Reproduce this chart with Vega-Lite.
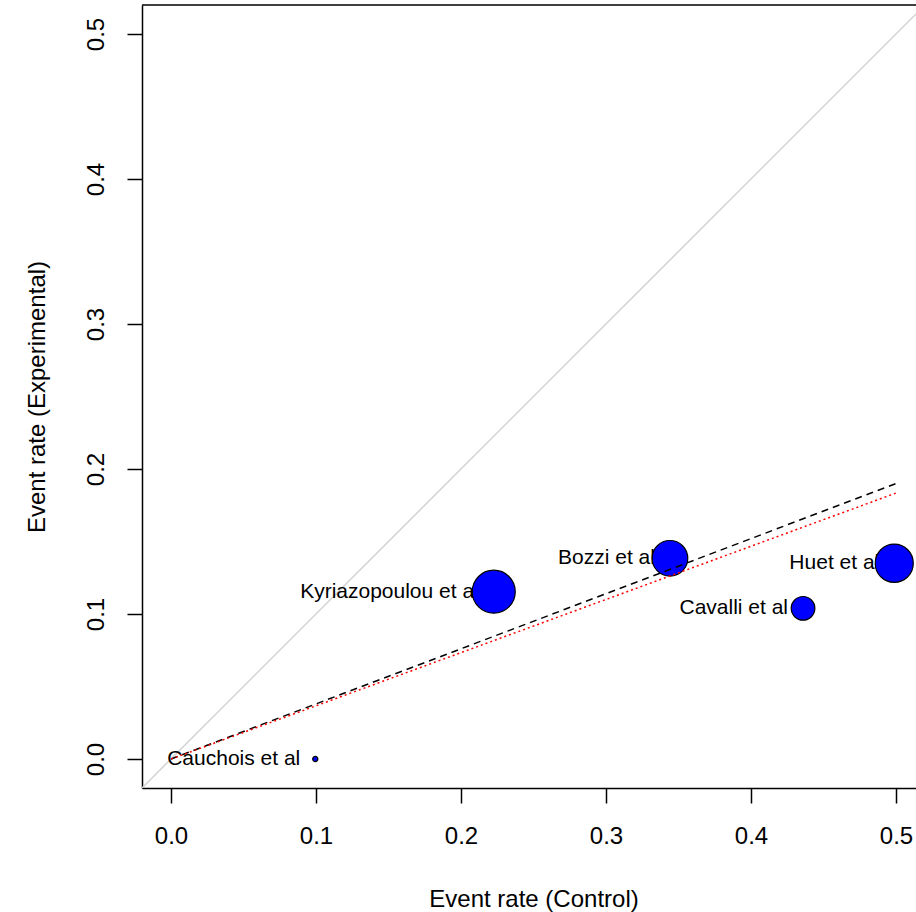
{
  "$schema": "https://vega.github.io/schema/vega-lite/v6.json",
  "width": 774,
  "height": 783,
  "autosize": {"type": "none"},
  "padding": {"left": 142, "top": 5, "right": 0, "bottom": 124},
  "background": "white",
  "config": {"view": {"stroke": null}, "font": "Liberation Sans"},
  "datasets": {
    "studies": [
      {"study": "Cauchois et al", "control": 0.0995, "experimental": 0.0, "weight": 0.12},
      {"study": "Kyriazopoulou et al", "control": 0.2226, "experimental": 0.1154, "weight": 1.0},
      {"study": "Bozzi et al", "control": 0.3441, "experimental": 0.1384, "weight": 0.83},
      {"study": "Cavalli et al", "control": 0.4359, "experimental": 0.1039, "weight": 0.55},
      {"study": "Huet et al", "control": 0.4988, "experimental": 0.135, "weight": 0.885}
    ],
    "lines": [
      {"series": "identity", "control": -0.02, "experimental": -0.02},
      {"series": "identity", "control": 0.52, "experimental": 0.52},
      {"series": "estimate", "control": 0.0, "experimental": 0.0},
      {"series": "estimate", "control": 0.5, "experimental": 0.190},
      {"series": "pooled", "control": 0.0, "experimental": 0.0},
      {"series": "pooled", "control": 0.5, "experimental": 0.1834}
    ]
  },
  "layer": [
    {
      "data": {"name": "lines"},
      "transform": [{"filter": "datum.series === 'identity'"}],
      "mark": {"type": "line", "color": "#d3d3d3", "strokeWidth": 1.5, "clip": true},
      "encoding": {
        "x": {
          "field": "control", "type": "quantitative",
          "scale": {"domain": [-0.02, 0.5138], "nice": false, "zero": false},
          "axis": {
            "title": "Event rate (Control)",
            "values": [0, 0.1, 0.2, 0.3, 0.4, 0.5],
            "format": ".1f",
            "grid": false,
            "domain": true, "domainColor": "black", "domainWidth": 1.5,
            "ticks": true, "tickSize": 15, "tickColor": "black", "tickWidth": 1.5,
            "labelFont": "Liberation Sans", "labelFontSize": 24, "labelColor": "black",
            "labelBaseline": "alphabetic", "labelAlign": "center", "labelPadding": 40,
            "labelFlush": false, "labelOverlap": false,
            "titleFont": "Liberation Sans", "titleFontSize": 24, "titleFontWeight": "normal", "titleColor": "black",
            "titleX": 391.5, "titleY": 118, "titleBaseline": "alphabetic", "titleAlign": "center"
          }
        },
        "y": {
          "field": "experimental", "type": "quantitative",
          "scale": {"domain": [-0.02, 0.52], "nice": false, "zero": false},
          "axis": {
            "title": "Event rate (Experimental)",
            "values": [0, 0.1, 0.2, 0.3, 0.4, 0.5],
            "format": ".1f",
            "grid": false,
            "domain": true, "domainColor": "black", "domainWidth": 1.5,
            "ticks": true, "tickSize": 15, "tickColor": "black", "tickWidth": 1.5,
            "labelFont": "Liberation Sans", "labelFontSize": 24, "labelColor": "black",
            "labelAngle": 270, "labelBaseline": "alphabetic", "labelAlign": "center", "labelPadding": 24,
            "labelFlush": false, "labelOverlap": false,
            "titleFont": "Liberation Sans", "titleFontSize": 24, "titleFontWeight": "normal", "titleColor": "black",
            "titleAngle": 270, "titleX": -98, "titleY": 391.5, "titleBaseline": "alphabetic", "titleAlign": "center"
          }
        }
      }
    },
    {
      "data": {"name": "studies"},
      "mark": {"type": "text", "align": "right", "baseline": "middle", "dx": -15, "fontSize": 21, "font": "Liberation Sans", "color": "black"},
      "encoding": {
        "x": {"field": "control", "type": "quantitative", "scale": {"domain": [-0.02, 0.5138], "nice": false, "zero": false}},
        "y": {"field": "experimental", "type": "quantitative", "scale": {"domain": [-0.02, 0.52], "nice": false, "zero": false}},
        "text": {"field": "study", "type": "nominal"}
      }
    },
    {
      "data": {"name": "studies"},
      "mark": {"type": "point", "shape": "circle", "filled": true, "fill": "#0000ff", "stroke": "black", "strokeWidth": 1.2, "opacity": 1, "fillOpacity": 1, "strokeOpacity": 1},
      "encoding": {
        "x": {"field": "control", "type": "quantitative", "scale": {"domain": [-0.02, 0.5138], "nice": false, "zero": false}},
        "y": {"field": "experimental", "type": "quantitative", "scale": {"domain": [-0.02, 0.52], "nice": false, "zero": false}},
        "size": {"field": "weight", "type": "quantitative", "scale": {"type": "pow", "exponent": 2, "domain": [0, 1], "range": [0, 1849]}, "legend": null}
      }
    },
    {
      "data": {"name": "lines"},
      "transform": [{"filter": "datum.series === 'estimate'"}],
      "mark": {"type": "line", "color": "black", "strokeWidth": 1.5, "strokeDash": [7, 5]},
      "encoding": {
        "x": {"field": "control", "type": "quantitative", "scale": {"domain": [-0.02, 0.5138], "nice": false, "zero": false}},
        "y": {"field": "experimental", "type": "quantitative", "scale": {"domain": [-0.02, 0.52], "nice": false, "zero": false}}
      }
    },
    {
      "data": {"name": "lines"},
      "transform": [{"filter": "datum.series === 'pooled'"}],
      "mark": {"type": "line", "color": "red", "strokeWidth": 1.5, "strokeDash": [2, 3]},
      "encoding": {
        "x": {"field": "control", "type": "quantitative", "scale": {"domain": [-0.02, 0.5138], "nice": false, "zero": false}},
        "y": {"field": "experimental", "type": "quantitative", "scale": {"domain": [-0.02, 0.52], "nice": false, "zero": false}}
      }
    },
    {
      "data": {"values": [{}]},
      "mark": {"type": "rule", "color": "black", "strokeWidth": 1.5},
      "encoding": {
        "y": {"datum": 0.52, "type": "quantitative", "scale": {"domain": [-0.02, 0.52], "nice": false, "zero": false}}
      }
    }
  ]
}
